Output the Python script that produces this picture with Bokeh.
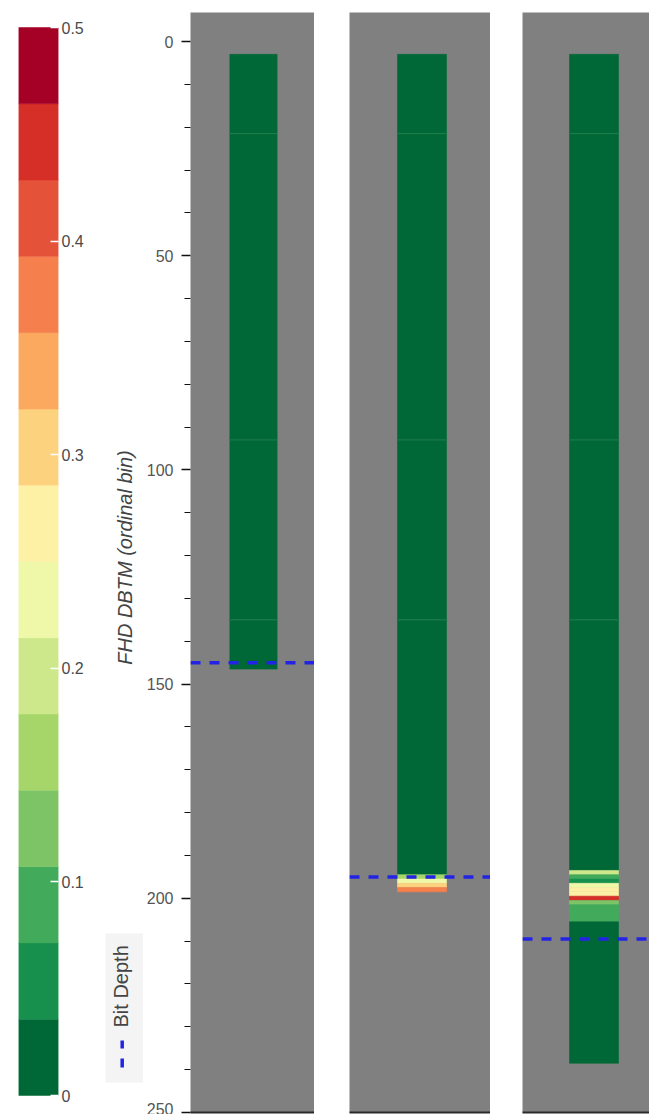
import math
from bokeh.plotting import figure
from bokeh.layouts import row
from bokeh.core.properties import value
from bokeh.models import (Range1d, FixedTicker, Span, ColumnDataSource, LinearColorMapper)
from bokeh.embed import file_html
from bokeh.resources import INLINE

# ---------------- data ----------------
palette = ["#006837", "#17904e", "#42ab5b", "#7cc466", "#a6d66a", "#cde88a", "#eff8a8",
           "#fdf1a6", "#fdd27f", "#fba95e", "#f5804d", "#e5523a", "#d62f27", "#a50026"]
scale_low, scale_high = 0.0, 0.5
scale_ticks = [0, 0.1, 0.2, 0.3, 0.4, 0.5]

depth_ticks = [0, 50, 100, 150, 200, 250]
depth_minor = [10, 20, 30, 40, 60, 70, 80, 90, 110, 120, 130, 140,
               160, 170, 180, 190, 210, 220, 230, 240]
depth_min, depth_max = -6.77, 250

seams = [21.5, 93, 135]

p1_top = [3, 21.5, 93, 135]
p1_bot = [21.5, 93, 135, 146.5]
p1_val = [0.01, 0.01, 0.01, 0.01]
p1_bit = 145

p2_top = [3, 21.5, 93, 135, 194.5, 195.5, 196.5, 197.5]
p2_bot = [21.5, 93, 135, 194.5, 195.5, 196.5, 197.5, 198.5]
p2_val = [0.01, 0.01, 0.01, 0.01, 0.16, 0.24, 0.30, 0.37]
p2_bit = 195

p3_top = [3, 21.5, 93, 135, 193.5, 194.5, 195.5, 196.5, 197.5, 198.5, 199.5, 200.5, 201.5, 205.5]
p3_bot = [21.5, 93, 135, 193.5, 194.5, 195.5, 196.5, 197.5, 198.5, 199.5, 200.5, 201.5, 205.5, 238.5]
p3_val = [0.01, 0.01, 0.01, 0.01, 0.18, 0.10, 0.05, 0.23, 0.26, 0.27, 0.45, 0.13, 0.09, 0.01]
p3_bit = 209.5

axis_title = "FHD DBTM (ordinal bin)"
legend_label = "Bit Depth"

# ---------------- style / layout ----------------
H = 1114
TOP, BOTTOM = 12, 2          # border sizes; frame spans page y 12..1112
FONT = "Liberation Sans"
BLUE = "#2323e6"
mapper = LinearColorMapper(palette=palette, low=scale_low, high=scale_high)

# ---- colour bar figure (frame 18..58 px wide; bar spans page y 27..1095) ----
cb_px = (1095 - 27) / (scale_high - scale_low)
cb_range = Range1d(scale_low - (1112 - 1095) / cb_px, scale_high + (27 - 12) / cb_px)
pa = figure(width=96, height=H, x_range=Range1d(0, 1), y_range=cb_range,
            output_backend="svg", toolbar_location=None, title=None,
            x_axis_location=None, y_axis_location="right",
            min_border_left=18, min_border_right=38, min_border_top=TOP, min_border_bottom=BOTTOM,
            outline_line_color=None)
pa.grid.visible = False
n = len(palette)
edges = [scale_low + i * (scale_high - scale_low) / n for i in range(n + 1)]
pa.quad(left=0, right=1, bottom=edges[:-1], top=edges[1:], fill_color=palette,
        line_color=palette, line_width=0.5)
ax = pa.yaxis[0]
ax.ticker = FixedTicker(ticks=scale_ticks)
ax.major_tick_in = 8
ax.major_tick_out = 0
ax.minor_tick_in = 0
ax.minor_tick_out = 0
ax.major_tick_line_color = "white"
ax.major_tick_line_width = 1.5
ax.axis_line_color = None
ax.major_label_standoff = 3
ax.major_label_text_font = FONT
ax.major_label_text_font_size = "16px"
ax.major_label_text_color = "#4a4a4a"

# ---- legend + axis title strip (page x 96..143), coordinates in page pixels ----
pl = figure(width=47, height=H, x_range=Range1d(96, 143), y_range=Range1d(1112, 12),
            output_backend="svg", toolbar_location=None, title=None,
            x_axis_location=None, y_axis_location=None,
            min_border_left=0, min_border_right=0, min_border_top=TOP, min_border_bottom=BOTTOM,
            outline_line_color=None)
pl.grid.visible = False
pl.quad(left=[105], right=[145], top=[933], bottom=[1082], fill_color="#f4f4f4", line_color=None)
pl.text(x=[120.5], y=[1027], text=[legend_label], angle=math.pi / 2, text_align="left",
        text_baseline="middle", text_font=value(FONT), text_font_size=value("20px"),
        text_color="#444444")
pl.segment(x0=[121.7], y0=[1067], x1=[121.7], y1=[1040], line_color=BLUE, line_width=3.5,
           line_dash="9 10")
pl.text(x=[124], y=[557], text=[axis_title], angle=math.pi / 2, text_align="center",
        text_baseline="middle", text_font=value(FONT), text_font_style="italic",
        text_font_size=value("20px"), text_color="#444444")


def make_panel(tops, bots, vals, bit, xr, width, left_border, with_axis):
    src = ColumnDataSource(dict(top=tops, bottom=bots, val=vals))
    p = figure(width=width, height=H, x_range=Range1d(*xr), y_range=Range1d(depth_max, depth_min),
               output_backend="svg", toolbar_location=None, title=None,
               y_axis_location="left" if with_axis else None, x_axis_location="below",
               min_border_left=left_border, min_border_right=0, min_border_top=TOP,
               min_border_bottom=BOTTOM, background_fill_color="#808080",
               border_fill_color="white", outline_line_color=None)
    p.grid.visible = False
    p.quad(left=0, right=1, top="top", bottom="bottom", source=src,
           fill_color={"field": "val", "transform": mapper},
           line_color={"field": "val", "transform": mapper}, line_width=0.6)
    seam_src = ColumnDataSource(dict(s=[s for s in seams if s < max(bots)]))
    p.segment(x0=0, x1=1, y0="s", y1="s", source=seam_src, line_color="#2f8a56",
              line_width=1, line_alpha=0.7)
    p.add_layout(Span(location=bit, dimension="width", line_color=BLUE,
                      line_dash="10 9", line_width=3.5))
    xa = p.xaxis[0]
    xa.ticker = FixedTicker(ticks=[])
    xa.major_tick_out = 0
    xa.major_tick_in = 0
    xa.minor_tick_out = 0
    xa.minor_tick_in = 0
    xa.major_label_standoff = 0
    xa.major_label_text_font_size = "0px"
    xa.axis_line_color = "#2a2a2a"
    xa.axis_line_width = 2
    if with_axis:
        ya = p.yaxis[0]
        ya.ticker = FixedTicker(ticks=depth_ticks, minor_ticks=depth_minor)
        ya.major_tick_out = 9
        ya.major_tick_in = 0
        ya.minor_tick_out = 6
        ya.minor_tick_in = 0
        ya.major_tick_line_color = "#111111"
        ya.minor_tick_line_color = "#111111"
        ya.major_tick_line_width = 1.5
        ya.minor_tick_line_width = 1.2
        ya.axis_line_color = None
        ya.major_label_standoff = 8
        ya.major_label_text_font = FONT
        ya.major_label_text_font_size = "16px"
        ya.major_label_text_color = "#555555"
    return p


p1 = make_panel(p1_top, p1_bot, p1_val, p1_bit, ((188 - 228) / 48, (314 - 228) / 48), 171, 45, True)
p2 = make_panel(p2_top, p2_bot, p2_val, p2_bit, ((349 - 397) / 49, (490 - 397) / 49), 176, 35, False)
p3 = make_panel(p3_top, p3_bot, p3_val, p3_bit, ((522 - 569) / 49, (649 - 569) / 49), 159, 32, False)

layout = row(pa, pl, p1, p2, p3, spacing=0)
open("out.html", "w").write(file_html(layout, INLINE))
